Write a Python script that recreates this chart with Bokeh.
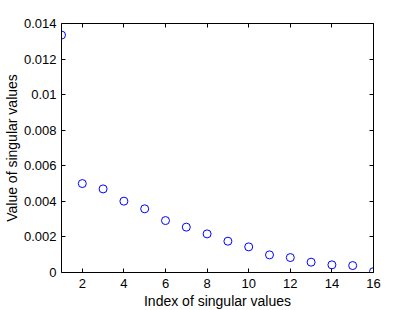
from bokeh.plotting import figure
from bokeh.models import LinearAxis, FixedTicker
from bokeh.embed import file_html
from bokeh.resources import INLINE

idx = list(range(1, 17))
sv = [0.01335, 0.00500, 0.00470, 0.00401, 0.00358, 0.00292, 0.00255, 0.00217,
      0.00176, 0.00144, 0.00099, 0.00084, 0.00058, 0.00043, 0.00039, 0.00005]
x_ticks = [2, 4, 6, 8, 10, 12, 14, 16]
y_ticks = [0, 0.002, 0.004, 0.006, 0.008, 0.010, 0.012, 0.014]
y_labels = ["0", "0.002", "0.004", "0.006", "0.008", "0.01", "0.012", "0.014"]

FONT = "Liberation Sans"

p = figure(frame_width=312, frame_height=249, x_range=(1, 16), y_range=(0, 0.014),
           output_backend="svg", toolbar_location=None,
           min_border_left=52, min_border_top=23, min_border_right=20, min_border_bottom=36,
           x_axis_label="Index of singular values", y_axis_label="Value of singular values")
p.grid.visible = False
p.outline_line_color = None
p.background_fill_color = "white"
p.border_fill_color = "white"

p.scatter(idx, sv, marker="circle", size=8, fill_color=None, line_color="#0000ff", line_width=1)

def style(ax, labels=True):
    ax.axis_line_color = "black"
    ax.axis_line_width = 1
    ax.major_tick_in = 4
    ax.major_tick_out = 0
    ax.minor_tick_in = 0
    ax.minor_tick_out = 0
    ax.major_tick_line_color = "black"
    ax.major_label_text_font = FONT
    ax.major_label_text_font_size = "13px"
    ax.major_label_text_color = "black"
    ax.axis_label_text_font = FONT
    ax.axis_label_text_font_size = "14px"
    ax.axis_label_text_font_style = "normal"
    ax.axis_label_text_color = "black"
    ax.major_label_standoff = 5
    ax.axis_label_standoff = 2
    if not labels:
        ax.major_label_text_alpha = 0
        ax.major_label_text_font_size = "0px"
        ax.major_label_standoff = 0

xa = p.xaxis[0]
ya = p.yaxis[0]
xa.ticker = FixedTicker(ticks=x_ticks)
ya.ticker = FixedTicker(ticks=y_ticks)
ya.major_label_overrides = {t: l for t, l in zip(y_ticks, y_labels)}
style(xa)
style(ya)
xa.major_label_standoff = 6
ya.axis_label_standoff = 1

top = LinearAxis(ticker=FixedTicker(ticks=x_ticks))
right = LinearAxis(ticker=FixedTicker(ticks=y_ticks))
style(top, labels=False)
style(right, labels=False)
p.add_layout(top, "above")
p.add_layout(right, "right")

open("out.html", "w").write(file_html(p, INLINE))
